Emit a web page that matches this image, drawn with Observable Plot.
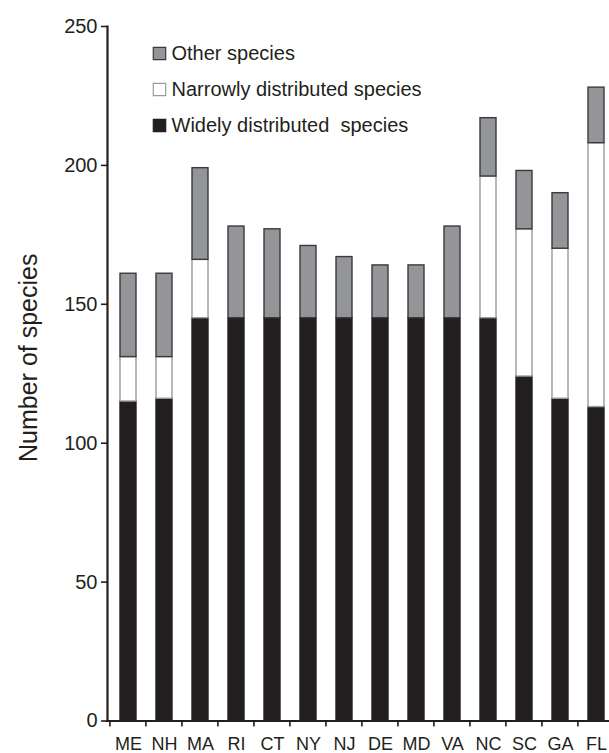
<!DOCTYPE html>
<html>
<head>
<meta charset="utf-8">
<script src="https://cdn.jsdelivr.net/npm/d3@7"></script>
<script src="https://cdn.jsdelivr.net/npm/@observablehq/plot@0.6"></script>
<style>
  html, body { margin: 0; padding: 0; background: #fff; }
  #chart { width: 609px; height: 753px; overflow: hidden; }
</style>
</head>
<body>
<div id="chart"></div>
<script>
// ---- data ----
const states = ["ME", "NH", "MA", "RI", "CT", "NY", "NJ", "DE", "MD", "VA", "NC", "SC", "GA", "FL"];
const widely = [115, 116, 145, 145, 145, 145, 145, 145, 145, 145, 145, 124, 116, 113];
const narrowly = [16, 15, 21, 0, 0, 0, 0, 0, 0, 0, 51, 53, 54, 95];
const other = [30, 30, 33, 33, 32, 26, 22, 19, 19, 33, 21, 21, 20, 20];
const seriesNames = ["Widely distributed  species", "Narrowly distributed species", "Other species"];
const yTicks = [0, 50, 100, 150, 200, 250];
const yLabel = "Number of species";

// ---- styles ----
const fills = {"Widely distributed  species": "#231f20", "Narrowly distributed species": "#ffffff", "Other species": "#939598"};
const strokes = {"Widely distributed  species": "#231f20", "Narrowly distributed species": "#9a9a9a", "Other species": "#3a3a3c"};
const ink = "#231f20";

const rows = [];
states.forEach((s, i) => {
  rows.push({state: s, series: seriesNames[0], value: widely[i]});
  rows.push({state: s, series: seriesNames[1], value: narrowly[i]});
  rows.push({state: s, series: seriesNames[2], value: other[i]});
});

const legendItems = [seriesNames[2], seriesNames[1], seriesNames[0]];

const padInner = 0.56, padOuter = 0.28;

// ticks at band boundaries
function boundaryTicks(index, scales, values, dims) {
  const x = scales.x;
  const step = typeof x.step === "function" ? x.step() : (dims.width - dims.marginLeft - dims.marginRight) / states.length;
  const y0 = dims.height - dims.marginBottom;
  const g = d3.create("svg:g");
  states.forEach(s => {
    const bx = x(s) - padOuter * step;
    g.append("line").attr("x1", bx).attr("x2", bx).attr("y1", y0).attr("y2", y0 + 6)
      .attr("stroke", ink).attr("stroke-width", 1.6);
  });
  return g.node();
}

const legendMarks = legendItems.flatMap((name, i) => [
  Plot.dot([name], {frameAnchor: "top-left", dx: 52, dy: 27 + i * 36, symbol: "square", r: 7,
    fill: fills[name], stroke: strokes[name], strokeWidth: 1.2}),
  Plot.text([name], {frameAnchor: "top-left", dx: 64, dy: 27 + i * 36, text: d => d, textAnchor: "start",
    lineAnchor: "middle", fontSize: 20, fill: ink})
]);

const chart = Plot.plot({
  width: 609,
  height: 753,
  marginLeft: 107,
  marginRight: -8,
  marginTop: 26,
  marginBottom: 32.5,
  style: {fontFamily: "'Liberation Sans', Arial, Helvetica, sans-serif", background: "#fff", color: ink},
  x: {domain: states, paddingInner: padInner, paddingOuter: padOuter, label: null},
  y: {domain: [0, 250], label: null},
  marks: [
    Plot.barY(rows, Plot.stackY({order: seriesNames}, {
      x: "state", y: "value", z: "series",
      fill: d => fills[d.series], stroke: d => strokes[d.series], strokeWidth: 1.4,
      filter: d => d.value > 0
    })),
    Plot.axisY({ticks: yTicks, tickSize: 6, tickPadding: 4, fontSize: 20, stroke: ink, strokeWidth: 1.6, label: null, tickFormat: d => String(d)}),
    Plot.axisX({tickSize: 0, tickPadding: 16, fontSize: 18, label: null}),
    Plot.frame({anchor: "left", stroke: ink, strokeWidth: 2.2}),
    Plot.frame({anchor: "bottom", stroke: ink, strokeWidth: 2.2}),
    boundaryTicks,
    Plot.text([yLabel], {frameAnchor: "left", rotate: -90, dx: -79, dy: -16, text: d => d, fontSize: 25, fill: ink, textAnchor: "middle", lineAnchor: "middle"}),
    ...legendMarks
  ]
});
document.getElementById("chart").appendChild(chart);
</script>
</body>
</html>
